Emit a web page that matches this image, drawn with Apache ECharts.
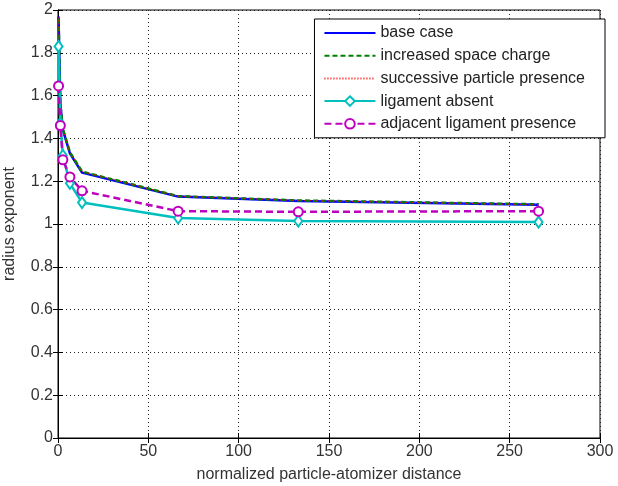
<!DOCTYPE html>
<html><head><meta charset="utf-8">
<script src="https://cdn.jsdelivr.net/npm/echarts@6/dist/echarts.min.js"></script>
<style>html,body{margin:0;padding:0;background:#fff}#c{width:618px;height:486px}</style>
</head><body><div id="c"></div>
<script>
const xDistance = [0.3, 1.3, 2.7, 6.6, 13.3, 66.5, 133, 266];
const baseCase = [1.97, 1.56, 1.44, 1.33, 1.24, 1.128, 1.108, 1.09];
const increasedSpaceCharge = [1.96, 1.56, 1.445, 1.335, 1.245, 1.13, 1.11, 1.092];
const successiveParticle = [1.965, 1.565, 1.445, 1.335, 1.245, 1.13, 1.11, 1.09];
const ligamentAbsent = [1.83, 1.47, 1.32, 1.19, 1.10, 1.028, 1.014, 1.009];
const adjacentLigament = [1.645, 1.46, 1.30, 1.22, 1.155, 1.06, 1.057, 1.06];
const seriesNames = ['base case','increased space charge','successive particle presence','ligament absent','adjacent ligament presence'];
const xTicks = [0,50,100,150,200,250,300];
const yTicks = [0,0.2,0.4,0.6,0.8,1,1.2,1.4,1.6,1.8,2];

const pts = ys => xDistance.map((x,i)=>[x, ys[i]]);
const font = 'Liberation Sans, Arial, sans-serif';
const txt = '#333';
const chart = echarts.init(document.getElementById('c'), null, {renderer:'canvas'});
const axisCommon = {
  axisLine:{show:true,lineStyle:{color:'#000',width:1}},
  axisTick:{show:true,inside:true,length:5,lineStyle:{color:'#000'}},
  splitLine:{show:true,lineStyle:{color:'#222',type:[1,3],width:1}}
};
const noDot = {opacity:0};
chart.setOption({
  animation:false,
  backgroundColor:'#fff',
  grid:{left:58,right:18,top:10,bottom:48,show:true,borderColor:'#000',borderWidth:1,containLabel:false,outerBoundsMode:'none'},
  xAxis:[Object.assign({type:'value',min:xTicks[0],max:xTicks[xTicks.length-1],interval:50,name:'normalized particle-atomizer distance',nameLocation:'middle',nameGap:29,nameTextStyle:{color:txt,fontFamily:font,fontSize:16}},axisCommon,{axisLabel:{color:txt,fontFamily:font,fontSize:16,margin:6}}),
         {type:'value',position:'top',min:0,max:300,interval:50,axisLine:{show:true,lineStyle:{color:'#000'}},axisTick:{show:true,inside:true,length:5,lineStyle:{color:'#000'}},axisLabel:{show:false},splitLine:{show:false}}],
  yAxis:[Object.assign({type:'value',min:yTicks[0],max:yTicks[yTicks.length-1],interval:0.2,name:'radius exponent',nameLocation:'middle',nameGap:40,nameTextStyle:{color:txt,fontFamily:font,fontSize:16}},axisCommon,{axisLabel:{color:txt,fontFamily:font,fontSize:16,margin:5,formatter:v=>String(+v.toFixed(1))}}),
         {type:'value',position:'right',min:0,max:2,interval:0.2,axisLine:{show:true,lineStyle:{color:'#000'}},axisTick:{show:true,inside:true,length:5,lineStyle:{color:'#000'}},axisLabel:{show:false},splitLine:{show:false}}],
  legend:{
    orient:'vertical',right:13,top:19,
    backgroundColor:'#fff',borderColor:'#000',borderWidth:1,
    padding:[6,20,6,9],itemGap:6.7,itemWidth:51,itemHeight:12,
    textStyle:{color:'#222',fontFamily:font,fontSize:16},
    data:[
      {name:seriesNames[0],itemStyle:noDot},
      {name:seriesNames[1],itemStyle:noDot},
      {name:seriesNames[2],itemStyle:noDot},
      {name:seriesNames[3]},
      {name:seriesNames[4]}
    ]
  },
  series:[
    {name:seriesNames[0],type:'line',data:pts(baseCase),showSymbol:false,symbol:'none',lineStyle:{color:'#0000ff',width:2.5},itemStyle:{color:'#0000ff'}},
    {name:seriesNames[1],type:'line',data:pts(increasedSpaceCharge),showSymbol:false,symbol:'none',lineStyle:{color:'#008000',width:2.5,type:[5,3]},itemStyle:{color:'#008000'}},
    {name:seriesNames[2],type:'line',data:pts(successiveParticle),showSymbol:false,symbol:'none',lineStyle:{color:'#ff0000',width:1,type:[1,2]},itemStyle:{color:'#ff0000'}},
    {name:seriesNames[3],type:'line',data:pts(ligamentAbsent),symbol:'emptyDiamond',symbolSize:[8,11],lineStyle:{color:'#00bfbf',width:2.5},itemStyle:{color:'#00bfbf',borderColor:'#00bfbf',borderWidth:2}},
    {name:seriesNames[4],type:'line',data:pts(adjacentLigament),symbol:'emptyCircle',symbolSize:9,lineStyle:{color:'#bf00bf',width:2.5,type:[7,4]},itemStyle:{color:'#bf00bf',borderColor:'#bf00bf',borderWidth:2}}
  ]
});
</script></body></html>
